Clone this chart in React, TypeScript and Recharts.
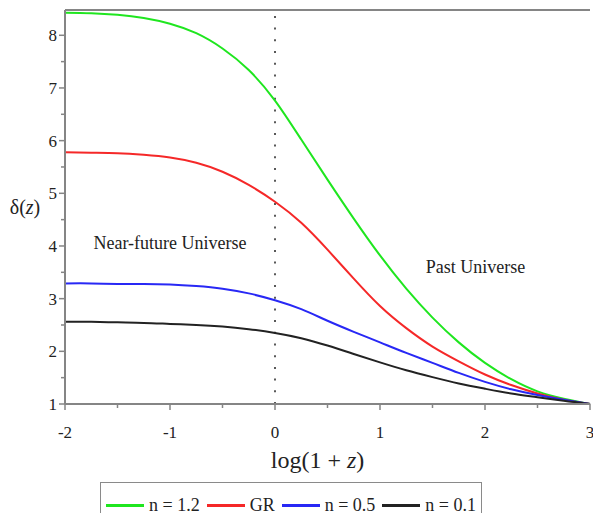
import { LineChart, Line, XAxis, YAxis, ReferenceLine, ReferenceDot, Label } from 'recharts';

const SERIF = '"Liberation Serif", "Times New Roman", serif';

// log(1+z) sample positions
const logZ = [-2, -1.75, -1.5, -1.25, -1, -0.75, -0.5, -0.25, 0, 0.25, 0.5, 0.75, 1, 1.25, 1.5, 1.75, 2, 2.25, 2.5, 2.75, 3];

// delta(z)
const nOneTwo = [8.43, 8.42, 8.39, 8.33, 8.22, 8.04, 7.75, 7.34, 6.76, 6.02, 5.26, 4.52, 3.82, 3.19, 2.64, 2.17, 1.78, 1.47, 1.24, 1.1, 1.0];
const gr = [5.78, 5.77, 5.76, 5.73, 5.68, 5.58, 5.41, 5.16, 4.84, 4.44, 3.93, 3.38, 2.86, 2.44, 2.09, 1.81, 1.56, 1.36, 1.2, 1.08, 1.0];
const nHalf = [3.29, 3.29, 3.28, 3.28, 3.27, 3.24, 3.19, 3.1, 2.97, 2.8, 2.58, 2.37, 2.17, 1.97, 1.78, 1.59, 1.42, 1.28, 1.17, 1.08, 1.0];
const nTenth = [2.56, 2.56, 2.55, 2.54, 2.52, 2.5, 2.47, 2.42, 2.35, 2.25, 2.11, 1.95, 1.79, 1.64, 1.51, 1.39, 1.29, 1.2, 1.13, 1.06, 1.0];

const xTicks = [-2, -1.5, -1, -0.5, 0, 0.5, 1, 1.5, 2, 2.5, 3];
const yTicks = [1, 1.5, 2, 2.5, 3, 3.5, 4, 4.5, 5, 5.5, 6, 6.5, 7, 7.5, 8];

const series = [
  { key: 'n12', name: 'n = 1.2', color: '#1fe61f', values: nOneTwo },
  { key: 'gr', name: 'GR', color: '#f52828', values: gr },
  { key: 'n05', name: 'n = 0.5', color: '#2828f5', values: nHalf },
  { key: 'n01', name: 'n = 0.1', color: '#222222', values: nTenth },
];

const data = logZ.map((x, i) => {
  const row: Record<string, number> = { x };
  series.forEach((s) => (row[s.key] = s.values[i]));
  return row;
});

const AXIS = '#858585';

function XTick({ x, y, payload }: any) {
  const v = payload.value;
  const major = Number.isInteger(v);
  return (
    <g>
      <line x1={x} x2={x} y1={y} y2={y + (major ? 6 : 4)} stroke={AXIS} strokeWidth={1.5} />
      {major && (
        <text x={x} y={y + 34} textAnchor="middle" fontFamily={SERIF} fontSize={17} fill="#222">
          {v}
        </text>
      )}
    </g>
  );
}

function YTick({ x, y, payload }: any) {
  const v = payload.value;
  const major = Number.isInteger(v);
  return (
    <g>
      <line x1={x - (major ? 6 : 4)} x2={x} y1={y} y2={y} stroke={AXIS} strokeWidth={1.5} />
      {major && (
        <text x={x - 8} y={y + 6} textAnchor="end" fontFamily={SERIF} fontSize={17} fill="#222">
          {v}
        </text>
      )}
    </g>
  );
}

function XTitle({ viewBox }: any) {
  const cx = viewBox.x + viewBox.width / 2 - 10;
  return (
    <text x={cx} y={viewBox.y + 64} textAnchor="middle" fontFamily={SERIF} fontSize={24} fill="#222">
      log(1 + <tspan fontStyle="italic">z</tspan>)
    </text>
  );
}

function YTitle({ viewBox }: any) {
  return (
    <text x={25} y={viewBox.y + viewBox.height / 2 + 7} textAnchor="middle" fontFamily={SERIF} fontSize={20} fill="#222">
      δ(<tspan fontStyle="italic">z</tspan>)
    </text>
  );
}

export default function App() {
  return (
    <div style={{ position: 'absolute', left: 0, top: 0, width: 593, height: 513, overflow: 'hidden', background: '#fff' }}>
      <LineChart width={593} height={513} data={data} margin={{ top: 10, right: 3, left: 0, bottom: 0 }}>
        <XAxis
          dataKey="x"
          type="number"
          domain={[-2, 3]}
          ticks={xTicks}
          interval={0}
          tick={XTick}
          tickLine={false}
          tickSize={0}
          tickMargin={0}
          height={109}
          axisLine={{ stroke: AXIS, strokeWidth: 2 }}
        >
          <Label content={XTitle} />
        </XAxis>
        <YAxis
          type="number"
          domain={[1, 8.48]}
          ticks={yTicks}
          interval={0}
          tick={YTick}
          tickLine={false}
          tickSize={0}
          tickMargin={0}
          width={65}
          axisLine={{ stroke: AXIS, strokeWidth: 2 }}
        >
          <Label content={YTitle} />
        </YAxis>
        <ReferenceLine y={8.48} stroke={AXIS} strokeWidth={2} />
        <ReferenceLine x={0} stroke="#222" strokeWidth={1.5} strokeDasharray="2 9.7" />
        <ReferenceDot
          x={-1}
          y={4.06}
          r={0}
          fill="none"
          stroke="none"
          label={{ value: 'Near-future Universe', position: 'center', fill: '#222', fontSize: 18, fontFamily: SERIF }}
        />
        <ReferenceDot
          x={1.91}
          y={3.6}
          r={0}
          fill="none"
          stroke="none"
          label={{ value: 'Past Universe', position: 'center', fill: '#222', fontSize: 18, fontFamily: SERIF }}
        />
        {series.map((s) => (
          <Line
            key={s.key}
            dataKey={s.key}
            name={s.name}
            type="natural"
            stroke={s.color}
            strokeWidth={2}
            dot={false}
            isAnimationActive={false}
          />
        ))}
      </LineChart>
      <div
        style={{
          position: 'absolute',
          left: 100,
          top: 482,
          width: 382,
          height: 46,
          border: '1.5px solid #8a8a8a',
          display: 'flex',
          alignItems: 'center',
          paddingLeft: 5,
          gap: 7,
          fontFamily: SERIF,
          fontSize: 18,
          color: '#222',
          boxSizing: 'border-box',
        }}
      >
        {series.map((s) => (
          <div key={s.key} style={{ display: 'flex', alignItems: 'center' }}>
            <span style={{ display: 'inline-block', width: 38, height: 3, background: s.color, marginRight: 5 }} />
            <span>{s.name}</span>
          </div>
        ))}
      </div>
    </div>
  );
}
